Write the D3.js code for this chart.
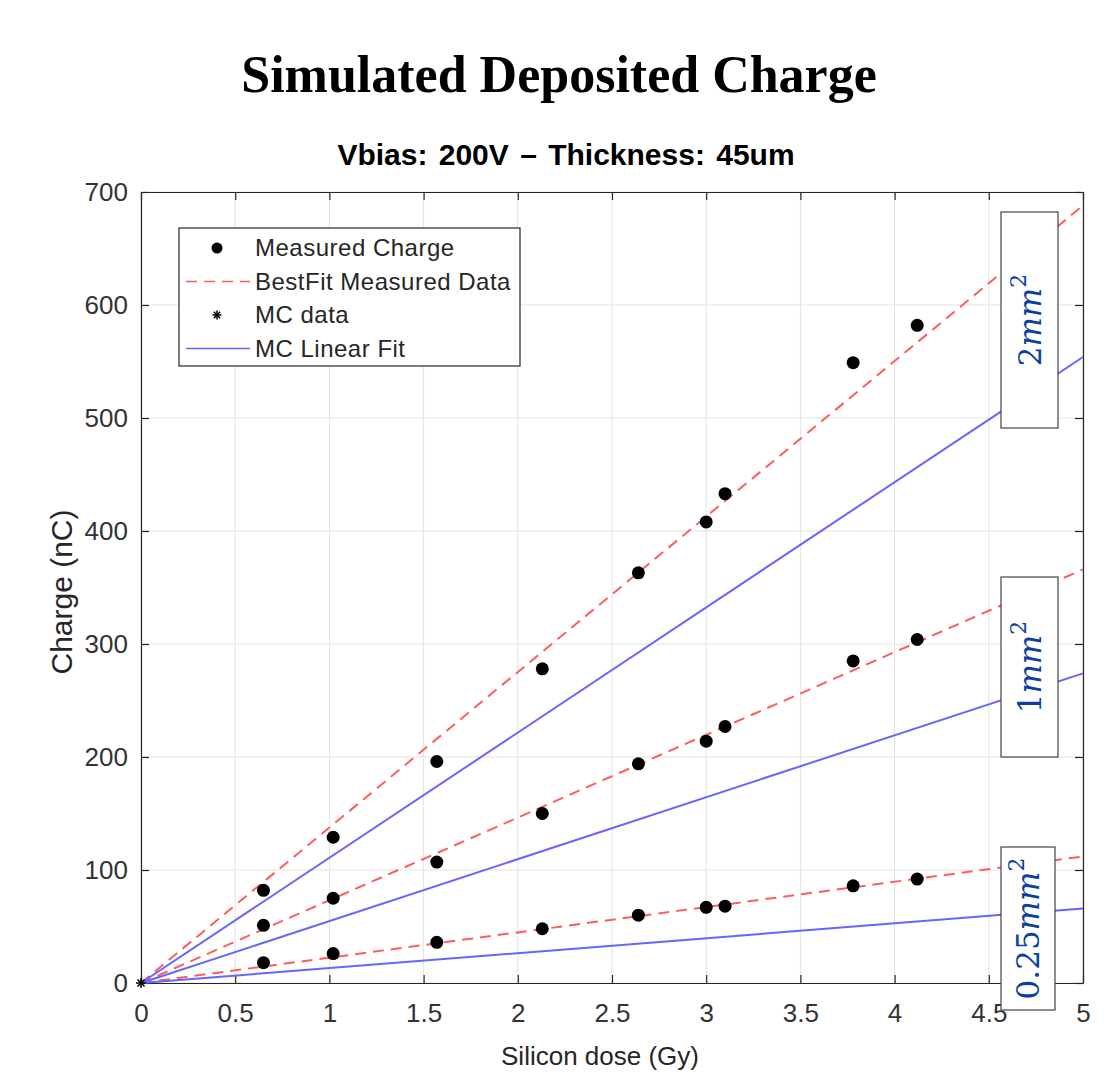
<!DOCTYPE html>
<html>
<head>
<meta charset="utf-8">
<title>Simulated Deposited Charge</title>
<style>
  body { margin: 0; background: #fff; }
  svg { display: block; }
  .tick text { font-family: "Liberation Sans", Arial, sans-serif; font-size: 26px; fill: #333; }
</style>
<script src="https://d3js.org/d3.v7.min.js"></script>
</head>
<body>
<svg id="chart" width="1108" height="1089"></svg>
<script>
// dose values (Gy)
var dose = [0.65, 1.02, 1.57, 2.13, 2.64, 3.0, 3.1, 3.78, 4.12];
// measured charge (nC), one list per pad area
var q2mm = [82, 129, 196, 278, 363, 408, 433, 549, 582];
var q1mm = [51, 75, 107, 150, 194, 214, 227, 285, 304];
var q025mm = [18, 26, 36, 48, 60, 67, 68, 86, 92];
// fit lines evaluated at dose 0 and 5
var fitX = [0, 5];
var bestFit2 = [0, 688], bestFit1 = [0, 366], bestFit025 = [0, 112];
var mcFit2 = [0, 554], mcFit1 = [0, 274], mcFit025 = [0, 66];
// MC data point
var mcX = [0], mcY = [0];
var xTicks = [0, 0.5, 1, 1.5, 2, 2.5, 3, 3.5, 4, 4.5, 5];
var yTicks = [0, 100, 200, 300, 400, 500, 600, 700];
var areaLabels = ["2", "1", "0.25"];
var legendNames = ["Measured Charge", "BestFit Measured Data", "MC data", "MC Linear Fit"];

var svg = d3.select("#chart");
var x = d3.scaleLinear().domain([0, 5]).range([141, 1083]);
var y = d3.scaleLinear().domain([0, 700]).range([983, 192]);
var axisColor = "#262626";
var red = "#ff5c5c", blue = "#6666ff";
var sans = "'Liberation Sans', Arial, sans-serif";

svg.append("rect").attr("width", 1108).attr("height", 1089).attr("fill", "#fff");

// grid
svg.append("g").selectAll("line").data(xTicks).join("line")
  .attr("x1", d => x(d)).attr("x2", d => x(d)).attr("y1", y(0)).attr("y2", y(700))
  .attr("stroke", "#e3e3e3").attr("stroke-width", 1);
svg.append("g").selectAll("line").data(yTicks).join("line")
  .attr("y1", d => y(d)).attr("y2", d => y(d)).attr("x1", x(0)).attr("x2", x(5))
  .attr("stroke", "#e3e3e3").attr("stroke-width", 1);

// axes
var xAxis = svg.append("g").attr("transform", "translate(0," + y(0) + ")")
  .call(d3.axisBottom(x).tickValues(xTicks).tickFormat(d3.format("")).tickSizeInner(-8).tickSizeOuter(0).tickPadding(21));
var xTop = svg.append("g").attr("transform", "translate(0," + y(700) + ")")
  .call(d3.axisTop(x).tickValues(xTicks).tickFormat("").tickSizeInner(-8).tickSizeOuter(0));
var yAxis = svg.append("g").attr("transform", "translate(" + x(0) + ",0)")
  .call(d3.axisLeft(y).tickValues(yTicks).tickSizeInner(-8).tickSizeOuter(0).tickPadding(13));
var yRight = svg.append("g").attr("transform", "translate(" + x(5) + ",0)")
  .call(d3.axisRight(y).tickValues(yTicks).tickFormat("").tickSizeInner(-8).tickSizeOuter(0));
[xAxis, xTop, yAxis, yRight].forEach(function (g) {
  g.select(".domain").attr("stroke", axisColor).attr("stroke-width", 1.2);
  g.selectAll(".tick line").attr("stroke", axisColor).attr("stroke-width", 1.2);
});
xAxis.selectAll(".tick text").attr("dy", "0.71em");

// fit lines
var line = d3.line().x(d => x(d[0])).y(d => y(d[1]));
var plot = svg.append("g");
[bestFit2, bestFit1, bestFit025].forEach(function (v) {
  plot.append("path").attr("d", line(d3.zip(fitX, v)))
    .attr("fill", "none").attr("stroke", red).attr("stroke-width", 2).attr("stroke-dasharray", "11,7");
});
[mcFit2, mcFit1, mcFit025].forEach(function (v) {
  plot.append("path").attr("d", line(d3.zip(fitX, v)))
    .attr("fill", "none").attr("stroke", blue).attr("stroke-width", 2);
});

// measured points
[q2mm, q1mm, q025mm].forEach(function (v) {
  plot.append("g").selectAll("circle").data(d3.zip(dose, v)).join("circle")
    .attr("cx", d => x(d[0])).attr("cy", d => y(d[1])).attr("r", 6.5).attr("fill", "#000");
});

// MC asterisks
function asterisk(g, cx, cy, r) {
  for (var k = 0; k < 4; k++) {
    var a = k * Math.PI / 4;
    g.append("line")
      .attr("x1", cx - r * Math.cos(a)).attr("y1", cy - r * Math.sin(a))
      .attr("x2", cx + r * Math.cos(a)).attr("y2", cy + r * Math.sin(a))
      .attr("stroke", "#000").attr("stroke-width", 1.5);
  }
}
mcX.forEach(function (d, i) { asterisk(plot, x(d), y(mcY[i]), 5); });

// area labels (boxes with rotated text)
var labelBoxes = [
  { y0: 212, y1: 428, w: 57 },
  { y0: 577, y1: 757, w: 57 },
  { y0: 847, y1: 1010, w: 54 }
];
areaLabels.forEach(function (t, i) {
  var b = labelBoxes[i];
  var g = svg.append("g");
  g.append("rect").attr("x", 1001).attr("y", b.y0).attr("width", b.w).attr("height", b.y1 - b.y0)
    .attr("fill", "#fff").attr("stroke", "#444").attr("stroke-width", 1.2);
  var cx = 1001 + b.w / 2 + 11, cy = (b.y0 + b.y1) / 2;
  var txt = g.append("text")
    .attr("transform", "translate(" + cx + "," + cy + ") rotate(-90)")
    .attr("text-anchor", "middle")
    .attr("font-family", "'DejaVu Serif', serif").attr("font-size", 31).attr("fill", "#0b3fa0");
  txt.append("tspan").text(t);
  txt.append("tspan").attr("font-style", "italic").text("mm");
  txt.append("tspan").attr("font-size", 22).attr("dy", -15).text("2");
});

// legend
var lg = svg.append("g");
lg.append("rect").attr("x", 179).attr("y", 228).attr("width", 341).attr("height", 138)
  .attr("fill", "#fff").attr("stroke", axisColor).attr("stroke-width", 1.2);
legendNames.forEach(function (name, i) {
  var ly = 248 + i * 33.5;
  if (i === 0) lg.append("circle").attr("cx", 217).attr("cy", ly).attr("r", 5.5).attr("fill", "#000");
  if (i === 1) lg.append("line").attr("x1", 186).attr("x2", 250).attr("y1", ly).attr("y2", ly)
    .attr("stroke", red).attr("stroke-width", 1.5).attr("stroke-dasharray", "11,7");
  if (i === 2) asterisk(lg, 217, ly, 4.5);
  if (i === 3) lg.append("line").attr("x1", 186).attr("x2", 250).attr("y1", ly).attr("y2", ly)
    .attr("stroke", blue).attr("stroke-width", 1.5);
  lg.append("text").attr("x", 255).attr("y", ly).attr("dy", "0.35em")
    .attr("font-family", sans).attr("font-size", 24).attr("letter-spacing", 0.5).attr("fill", axisColor)
    .text(name);
});

// titles and axis labels
svg.append("text").attr("x", 559).attr("y", 92).attr("text-anchor", "middle")
  .attr("font-family", "'Liberation Serif', 'Times New Roman', serif").attr("font-weight", "bold")
  .attr("font-size", 52).attr("fill", "#000").text("Simulated Deposited Charge");
svg.append("text").attr("x", 566).attr("y", 165).attr("text-anchor", "middle")
  .attr("font-family", sans).attr("font-weight", "bold").attr("word-spacing", 3)
  .attr("font-size", 30).attr("fill", "#000").text("Vbias: 200V \u2013 Thickness: 45um");
svg.append("text").attr("transform", "translate(72,592) rotate(-90)").attr("text-anchor", "middle")
  .attr("font-family", sans).attr("font-size", 30).attr("fill", axisColor)
  .text("Charge (nC)");
svg.append("text").attr("x", 600).attr("y", 1065).attr("text-anchor", "middle")
  .attr("font-family", sans).attr("font-size", 26).attr("fill", axisColor)
  .text("Silicon dose (Gy)");
</script>
</body>
</html>
